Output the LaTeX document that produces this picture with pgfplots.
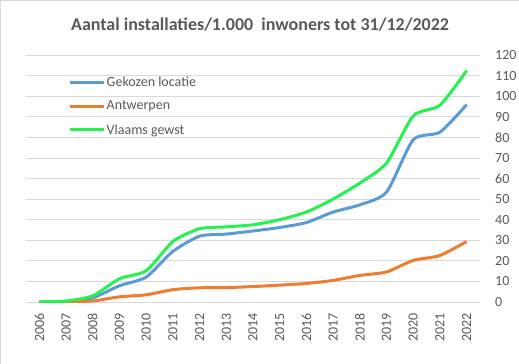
\documentclass[border=0pt]{standalone}
\usepackage{pgfplots}
\pgfplotsset{compat=1.18}
\usepackage{fontspec}
\setmainfont{Carlito}
\definecolor{txt}{HTML}{595959}
\definecolor{grd}{HTML}{D9D9D9}
\definecolor{cblue}{HTML}{5B9BD5}
\definecolor{corange}{HTML}{ED7D31}
\definecolor{cgreen}{RGB}{35,242,80}
\begin{document}
\begin{tikzpicture}
\begin{axis}[
  at={(0,0)}, anchor=south west,
  scale only axis, width=454bp, height=247bp,
  xmin=2005.5, xmax=2022.5, ymin=0, ymax=120,
  xtick={2006,...,2022},
  ytick={0,10,...,120},
  axis line style={draw=none},
  ymajorgrids, grid style={grd, line width=0.8bp},
  major tick length=0pt,
  yticklabel pos=right,
  xticklabel shift=11bp,
  xticklabel style={rotate=90, anchor=east, font=\fontsize{14bp}{16bp}\selectfont, text=txt, inner sep=0pt},
  yticklabel style={anchor=west, font=\fontsize{14bp}{16bp}\selectfont, text=txt, inner sep=0pt, xshift=15bp},
  xticklabel={\pgfmathprintnumber[1000 sep={}]{\tick}},
  /pgf/number format/assume math mode=true,
  legend style={draw=none, fill=none, at={(42bp,227bp)}, anchor=north west,
    font=\fontsize{14bp}{16bp}\selectfont, text=txt, row sep=10bp, inner sep=0pt,
    nodes={inner sep=1.5bp}},
  legend cell align=left,
  legend image code/.code={\draw[#1] (0bp,0bp) -- (34bp,0bp);},
  every axis plot/.append style={line width=3bp, smooth, tension=0.4, mark=none},
]
\addplot[cblue] coordinates {(2006,0) (2007,0.3) (2008,2) (2009,7.9) (2010,12.1) (2011,24.6) (2012,32) (2013,33) (2014,34.5) (2015,36.2) (2016,38.6) (2017,43.7) (2018,47.2) (2019,53.4) (2020,78.8) (2021,82.5) (2022,95.9)};
\addlegendentry{Gekozen locatie}
\addplot[corange] coordinates {(2006,0) (2007,0) (2008,0.5) (2009,2.5) (2010,3.5) (2011,6) (2012,6.9) (2013,7) (2014,7.5) (2015,8.2) (2016,9) (2017,10.5) (2018,12.9) (2019,14.6) (2020,20.2) (2021,22.6) (2022,29.4)};
\addlegendentry{Antwerpen}
\addplot[cgreen] coordinates {(2006,0) (2007,0.5) (2008,3) (2009,11.3) (2010,15.2) (2011,29.4) (2012,35.6) (2013,36.5) (2014,37.5) (2015,40) (2016,43.7) (2017,50) (2018,57.8) (2019,67.5) (2020,90.4) (2021,95.6) (2022,112.4)};
\addlegendentry{Vlaams gewst}
\end{axis}
\node[text=txt, font=\fontsize{18bp}{22bp}\selectfont\bfseries] at (234bp,277bp) {Aantal installaties/1.000\ \ inwoners tot 31/12/2022};
\pgfresetboundingbox
\path[use as bounding box] (-26bp,-62bp) rectangle (493bp,302bp);
\draw[grd, line width=1.5bp] (-25.25bp,-62bp) -- (-25.25bp,301.25bp) -- (493bp,301.25bp);
\end{tikzpicture}
\end{document}
